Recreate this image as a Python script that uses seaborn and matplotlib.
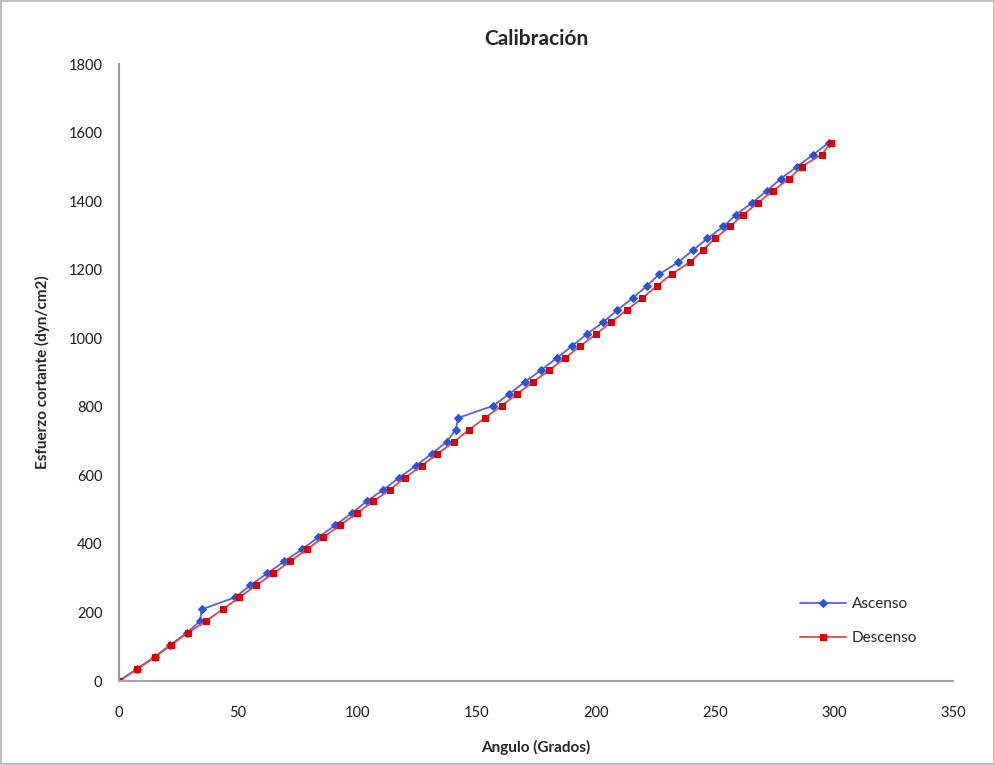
"""Calibration chart: shear stress vs angle, ascending and descending runs."""

import matplotlib
matplotlib.use("Agg")
import matplotlib.pyplot as plt
import seaborn as sns

# shear stress steps (dyn/cm2), shared by both runs
esfuerzo = [0, 35, 70, 105, 140, 175, 209, 244, 279, 314, 349, 384, 419, 454,
            489, 524, 558, 593, 628, 663, 698, 733, 768, 803, 838, 873, 907,
            942, 977, 1012, 1047, 1082, 1117, 1152, 1187, 1222, 1256, 1291,
            1326, 1361, 1396, 1431, 1466, 1501, 1536, 1571]

# angle readings (degrees)
angulo_ascenso = [0, 7.4, 14.9, 21.4, 28.4, 34.0, 34.7, 48.7, 55.0, 62.2,
                  69.4, 76.7, 83.6, 90.6, 97.6, 103.9, 110.9, 117.5, 124.5,
                  131.2, 137.5, 141.3, 142.4, 157.0, 163.8, 170.4, 177.1,
                  183.7, 190.0, 196.3, 203.2, 209.1, 215.5, 221.4, 226.7,
                  234.7, 240.7, 246.9, 253.6, 259.0, 265.8, 272.0, 277.8,
                  284.6, 291.4, 297.9]
angulo_descenso = [0, 7.7, 15.1, 21.8, 28.8, 36.4, 43.5, 50.5, 57.5, 64.8,
                   71.8, 78.8, 85.7, 92.7, 99.7, 106.6, 113.7, 120.0, 127.0,
                   133.6, 140.6, 146.9, 153.6, 160.6, 167.1, 173.9, 180.6,
                   187.2, 193.5, 200.2, 206.5, 213.0, 219.6, 225.6, 231.9,
                   239.6, 244.9, 250.1, 256.4, 262.0, 268.3, 274.6, 281.3,
                   286.5, 294.9, 298.8]

x_ticks = [0, 50, 100, 150, 200, 250, 300, 350]
y_ticks = [0, 200, 400, 600, 800, 1000, 1200, 1400, 1600, 1800]

sns.set_style("white")
plt.rcParams["font.family"] = ["Lato", "DejaVu Sans"]

fig = plt.figure(figsize=(9.95, 7.65), dpi=100)
ax = fig.add_axes([0.1196, 0.1098, 0.8382, 0.8065])

sns.lineplot(x=angulo_ascenso, y=esfuerzo, sort=False, ax=ax, label="Ascenso",
             color="#5c5cf5", linewidth=1.3, marker="D", markersize=4.5,
             markerfacecolor="#2454e0", markeredgecolor="#2454e0")
sns.lineplot(x=angulo_descenso, y=esfuerzo, sort=False, ax=ax, label="Descenso",
             color="#e04848", linewidth=1.3, marker="s", markersize=5,
             markerfacecolor="#dd0000", markeredgecolor="#dd0000")

ax.set_xlim(0, 350)
ax.set_ylim(0, 1800)
ax.set_xticks(x_ticks)
ax.set_yticks(y_ticks)
ax.tick_params(axis="both", length=0, labelsize=10.5, colors="#1a1a1a")
ax.tick_params(axis="x", pad=18)
ax.tick_params(axis="y", pad=12)

for side in ["top", "right"]:
    ax.spines[side].set_visible(False)
ax.spines["left"].set_color("#a08cc8")
ax.spines["left"].set_linewidth(1.5)
ax.spines["bottom"].set_color("#a6a6a6")
ax.spines["bottom"].set_linewidth(1.5)

ax.set_title("Calibración", fontsize=15, fontweight="bold", pad=14)
ax.set_xlabel("Angulo (Grados)", fontsize=11, fontweight="bold", labelpad=14)
ax.set_ylabel("Esfuerzo cortante (dyn/cm2)", fontsize=11, fontweight="bold",
              labelpad=13)

ax.legend(loc="upper left", bbox_to_anchor=(0.8, 0.158), frameon=False,
          handlelength=3, handletextpad=0.4, labelspacing=1.3, fontsize=11)

fig.patch.set_edgecolor("#bfbfbf")
fig.patch.set_linewidth(1.5)
fig.savefig("out.png", dpi=100, edgecolor=fig.get_edgecolor())
